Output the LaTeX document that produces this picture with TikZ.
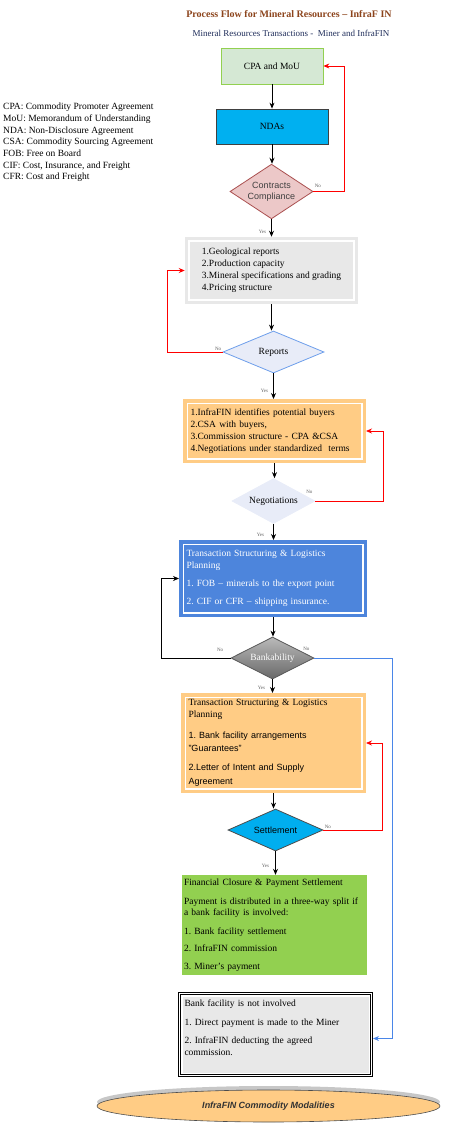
\documentclass[tikz,border=0pt]{standalone}
\usepackage{fontspec}
\setmainfont{Liberation Serif}
\setsansfont{Liberation Sans}
\usetikzlibrary{shapes.geometric,shadows,arrows.meta}
\frenchspacing
\definecolor{ttlbrown}{RGB}{140,68,28}
\definecolor{subnavy}{RGB}{31,45,90}
\definecolor{cpagreen}{RGB}{213,232,212}
\definecolor{cpaedge}{RGB}{146,208,80}
\definecolor{ndablue}{RGB}{0,176,240}
\definecolor{comppink}{RGB}{236,200,200}
\definecolor{compedge}{RGB}{170,80,80}
\definecolor{infogray}{RGB}{232,232,232}
\definecolor{lav}{RGB}{232,236,248}
\definecolor{lavedge}{RGB}{109,158,235}
\definecolor{orng}{RGB}{255,204,133}
\definecolor{planblue}{RGB}{77,133,220}
\definecolor{banktop}{RGB}{185,185,185}
\definecolor{bankbot}{RGB}{105,105,105}
\definecolor{setcyan}{RGB}{0,174,239}
\definecolor{closegreen}{RGB}{146,208,80}
\definecolor{altblue}{RGB}{74,134,232}
\definecolor{yngray}{RGB}{95,95,95}
\begin{document}
\begin{tikzpicture}[x=1pt, y=-1pt,
  stg/.style={draw, line width=0.8pt, inner sep=2pt, font=\fontsize{9.5}{12}\selectfont},
  panel/.style={draw=#1, fill=#1, double=white, double distance=1.5pt, line width=3.5pt,
    outer sep=4.25pt, align=left, inner xsep=3pt, inner ysep=1pt, font=\fontsize{9.5}{12}\selectfont},
  dec/.style={diamond, line width=0.8pt, inner sep=-3pt, align=center, font=\fontsize{9.5}{12}\selectfont},
  flow/.style={-{Stealth[length=6pt,width=5pt]}, line width=0.8pt},
  back/.style={flow, red},
  alt/.style={flow, altblue},
  yn/.style={font=\fontsize{5}{6}\selectfont, text=yngray, inner sep=1pt}]
\useasboundingbox (0,0) rectangle (476,1124);
\node[font=\bfseries\fontsize{10}{12}\selectfont, text=ttlbrown] (ttl) at (289,14)
  {Process Flow for Mineral Resources – InfraF IN};
\node[font=\fontsize{9}{11}\selectfont, text=subnavy] (sub) at (291,33)
  {Mineral Resources Transactions -~ Miner and InfraFIN};
\node[anchor=north west, align=left, inner sep=0pt, font=\fontsize{9.5}{11.7}\selectfont] (key) at (3,103)
  {CPA: Commodity Promoter Agreement\\MoU: Memorandum of Understanding\\NDA: Non-Disclosure Agreement\\
   CSA: Commodity Sourcing Agreement\\FOB: Free on Board\\CIF: Cost, Insurance, and Freight\\CFR: Cost and Freight};
% main column
\node[stg, fill=cpagreen, draw=cpaedge, minimum width=102, minimum height=36] (cpa) at (272,66) {CPA and MoU};
\node[stg, fill=ndablue, draw=black!75, minimum width=112, minimum height=35] (nda) at (272,126.5) {NDAs};
\node[dec, fill=comppink, draw=compedge, minimum width=83, minimum height=43, text=black!75,
  font=\sffamily\fontsize{9}{11}\selectfont] (comp) at (271.5,191.5) {Contracts\\Compliance};
\node[panel=infogray, minimum width=165, minimum height=59] (geo) at (271.5,270.5)
  {1.Geological reports\\2.Production capacity\\3.Mineral specifications and grading\\4.Pricing structure};
\node[dec, fill=lav, draw=lavedge, minimum width=101, minimum height=42] (rep) at (273.5,352) {Reports};
\node[panel=orng, minimum width=174.5, minimum height=55.5, text width=168] (buy) at (274.5,431)
  {1.InfraFIN identifies potential buyers\\2.CSA with buyers,\\3.Commission structure - CPA \&CSA\\
   4.Negotiations under standardized~ terms};
\node[dec, fill=lav, draw=lav, minimum width=83, minimum height=42] (neg) at (273.5,501) {Negotiations};
\node[panel=planblue, text=white, minimum width=179.5, minimum height=68.5, text width=173] (plan) at (273,578.5)
  {Transaction Structuring \& Logistics\\Planning\\[6pt]1. FOB – minerals to the export point\\[6pt]
   2. CIF or CFR – shipping insurance.};
\node[dec, top color=banktop, bottom color=bankbot, draw=black!65, text=white,
  minimum width=83, minimum height=42] (bank) at (272.5,658) {Bankability};
\node[panel=orng, minimum width=176.5, minimum height=91.5, text width=170] (fac) at (273.5,743)
  {Transaction Structuring \& Logistics\\Planning\\[9pt]\sffamily\fontsize{9}{12}\selectfont
   1. Bank facility arrangements\\[1pt]"Guarantees"\\[7pt]2.Letter of Intent and Supply\\[2pt]Agreement};
\node[dec, fill=setcyan, draw=black!70, minimum width=95, minimum height=42,
  font=\sffamily\fontsize{9}{11}\selectfont] (set) at (275.5,830) {Settlement};
\node[fill=closegreen, minimum width=185, minimum height=100, text width=181, inner xsep=2pt,
  align=left, font=\fontsize{9.5}{11.5}\selectfont] (clos) at (274.5,925)
  {Financial Closure \& Payment Settlement\\[7pt]Payment is distributed in a three-way split if\\
   a bank facility is involved:\\[7pt]1. Bank facility settlement\\[6pt]2. InfraFIN commission\\[6pt]3. Miner’s payment};
\node[draw, double=white, double distance=1.5pt, line width=0.6pt, fill=white, outer sep=1.5pt,
  minimum width=192, minimum height=82, text width=182, inner xsep=3pt, align=left,
  font=\fontsize{9.5}{11.5}\selectfont,
  path picture={\fill[infogray] ([shift={(3pt,-3pt)}]path picture bounding box.north west)
    rectangle ([shift={(-3pt,3pt)}]path picture bounding box.south east);}] (dir) at (275.5,1034.5)
  {Bank facility is not involved\\[7pt]1. Direct payment is made to the Miner\\[7pt]
   2. InfraFIN deducting the agreed\\commission.\\[2pt]\mbox{}};
\node[ellipse, draw=black!70, line width=0.6pt, fill=orng, minimum width=343, minimum height=32,
  drop shadow={shadow xshift=0pt, shadow yshift=4pt, fill=black!22, opacity=1},
  font=\sffamily\bfseries\itshape\fontsize{9}{11}\selectfont, text=black!80] (mod) at (268.5,1106)
  {InfraFIN Commodity Modalities};
% connectors
\draw[flow] (cpa) -- (nda);
\draw[flow] (nda.south) -- (nda.south |- comp.north);
\draw[flow] (comp.south) -- (comp.south |- geo.north) node[yn, pos=0.7, left=4pt] {Yes};
\draw[back] (comp.east) node[yn, above right, yshift=3pt] {No} -- ++(31,0) |- (cpa.east);
\draw[flow] (geo.south) -- (geo.south |- rep.north);
\draw[back] (rep.west) node[yn, above left] {No} -- ++(-55,0) |- (geo.west);
\draw[flow] (rep.south) -- (rep.south |- buy.north) node[yn, pos=0.7, left=4pt] {Yes};
\draw[flow] (buy.south) -- (buy.south |- neg.north);
\draw[back] (neg.east) node[yn, above=6pt, xshift=-6pt] {No} -- ++(68,0) |- (buy.east);
\draw[flow] (neg.south) -- (neg.south |- plan.north) node[yn, pos=0.7, left=8pt] {Yes};
\draw[flow] (plan.south) -- (plan.south |- bank.north);
\draw[flow] (bank.west) node[yn, above left, xshift=-6pt, yshift=5pt] {No} -- ++(-69,0) |- (plan.west);
\draw[alt] (bank.east) node[yn, above=6pt, xshift=-8pt] {No} -- ++(78,0) |- ([yshift=-4pt]dir.east);
\draw[flow] (bank.south) -- (bank.south |- fac.north) node[yn, pos=0.6, left=6pt] {Yes};
\draw[flow] (fac.south) -- (fac.south |- set.north);
\draw[back] (set.east) node[yn, above right] {No} -- ++(59,0) |- (fac.east);
\draw[flow] (set.south) -- (set.south |- clos.north) node[yn, pos=0.6, left=5pt] {Yes};
\end{tikzpicture}
\end{document}
